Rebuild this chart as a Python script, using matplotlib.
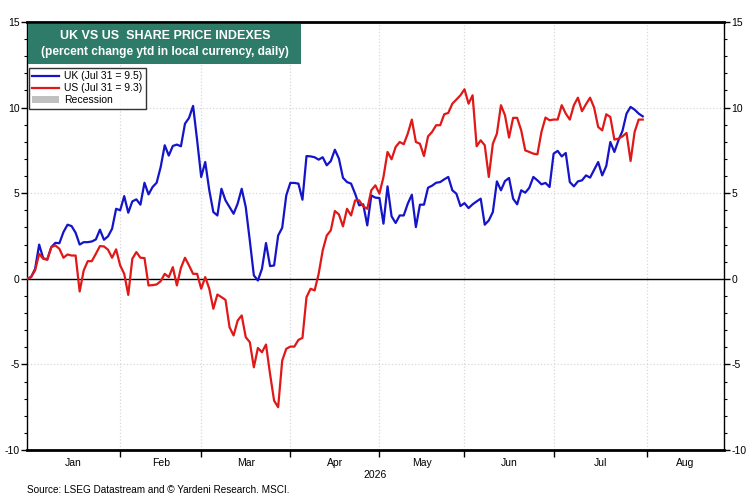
import numpy as np
import pandas as pd
import matplotlib
matplotlib.use("Agg")
import matplotlib.pyplot as plt
from matplotlib.patches import Rectangle, Patch
from matplotlib.lines import Line2D

plt.rcParams['font.family'] = ['Liberation Sans', 'DejaVu Sans']
plt.rcParams['axes.unicode_minus'] = False

# percent change ytd, one value per trading day, Dec 31 2025 = 0
uk = [0, 0.1, 0.58, 2.0, 1.2, 1.13, 1.85, 2.1, 2.08, 2.73,
      3.16, 3.08, 2.69, 2.0, 2.14, 2.14, 2.18, 2.3, 2.87, 2.28,
      2.48, 2.92, 4.09, 4.0, 4.83, 3.86, 4.52, 4.64, 4.33, 5.61,
      4.93, 5.36, 5.61, 6.53, 7.8, 7.2, 7.76, 7.84, 7.74, 9.06,
      9.4, 10.1,
      8.09, 5.95, 6.82, 5.17, 3.9, 3.7, 5.26, 4.58, 4.19, 3.8,
      4.39, 5.26, 4.19, 2.24, 0.2, -0.1, 0.58, 2.09, 0.74, 0.78,
      2.53, 2.98, 4.87, 5.6, 5.6, 5.56, 4.62, 7.17, 7.15, 7.1,
      6.96, 7.1, 6.63, 6.88, 7.54, 7.02, 5.9, 5.65, 5.56, 4.97,
      4.29,
      4.35, 3.12, 4.87, 4.74, 4.72, 3.22, 5.4, 3.65, 3.26, 3.7,
      3.7, 4.39, 4.91, 3.02, 4.33, 4.33, 5.32, 5.44, 5.61, 5.65,
      5.81, 5.95, 5.17, 4.97, 4.25, 4.42, 4.13, 4.35, 4.52, 4.68,
      3.16, 3.41, 3.9, 5.69, 5.17, 5.71, 5.89, 4.68, 4.35,
      5.17, 5.03, 5.32, 5.95, 5.75, 5.52, 5.6, 5.36, 7.31, 7.47,
      7.15, 7.35, 5.65, 5.4, 5.69, 5.75, 6.04, 5.91, 6.37, 6.82,
      6.04, 6.59, 7.99, 7.41, 8.09, 8.64, 9.65, 10.04, 9.88, 9.65,
      9.49]

us = [0, 0.1, 0.49, 1.46, 1.17, 1.11, 1.85, 1.95, 1.75, 1.23,
      1.42, 1.36, 1.36, -0.74, 0.49, 1.03, 1.03, 1.46, 1.91, 1.89,
      1.7, 1.23, 1.72, 0.78, 0.29, -0.94, 1.17, 1.56, 1.23, 1.21,
      -0.39, -0.37, -0.33, -0.14, 0.29, 0.1, 0.68, -0.39, 0.64, 1.23,
      0.78, 0.29,
      0.29, -0.58, 0.1, -0.58, -1.75, -0.92, -1.07, -1.23, -2.83, -3.31,
      -2.44, -2.14, -3.41, -3.7, -5.17, -4.04, -4.29, -3.84, -5.56, -7.12,
      -7.5, -4.78, -4.09, -3.96, -3.96, -3.57, -3.45, -1.07, -0.58, -0.68,
      0.29, 1.66, 2.53, 2.83, 3.96, 3.76, 3.06, 4.09, 3.7, 4.58,
      4.58,
      4.23, 4.09, 5.17, 5.46, 4.97, 5.95, 7.41, 6.98, 7.7, 7.99,
      7.86, 8.48, 9.3, 7.99, 7.89, 7.17, 8.32, 8.58, 8.97, 8.97,
      9.61, 9.69, 10.23, 10.47, 10.72, 11.07, 10.23, 10.72, 7.74, 8.09,
      7.8, 5.95, 7.89, 8.48, 10.14, 9.55, 8.25, 9.4, 9.4,
      8.67, 7.5, 7.41, 7.31, 7.27, 8.58, 9.42, 9.26, 9.3, 9.3,
      10.14, 9.65, 9.3, 10.14, 10.58, 9.79, 10.2, 10.58, 10.0, 8.87,
      8.67, 9.61, 9.45, 8.13, 8.19, 8.32, 8.52, 6.88, 8.58, 9.3,
      9.3]

month_names = ["Jan", "Feb", "Mar", "Apr", "May", "Jun", "Jul", "Aug"]

# trading-day calendar used for the x axis
cal = pd.bdate_range("2025-12-31", "2026-08-28")
x = np.arange(len(uk))

month_start = [0]
for m in range(2, 9):
    month_start.append(int(np.argmax(cal.month == m)))
month_end = month_start[1:] + [len(cal) - 1]
month_mid = [(a + b) / 2 for a, b in zip(month_start, month_end)]

fig = plt.figure(figsize=(7.5, 5), dpi=100)
ax = fig.add_axes([0.036, 0.1, 0.929, 0.856])

blue = "#1414c8"
red = "#e01818"

ax.plot(x, uk, color=blue, lw=1.6, zorder=3)
ax.plot(x, us, color=red, lw=1.6, zorder=3)
ax.axhline(0, color="black", lw=1.0, zorder=2)

ax.set_xlim(0, len(cal) - 1)
ax.set_ylim(-10, 15)

# y axis on both sides
ax.set_yticks(np.arange(-10, 16, 5))
ax.set_yticks(np.arange(-10, 16, 1), minor=True)
ax.tick_params(axis="y", which="both", direction="out", left=True, right=True,
               labelleft=True, labelright=True, labelsize=7.5, pad=1.5)
ax.tick_params(axis="y", which="major", length=4, width=1)
ax.tick_params(axis="y", which="minor", length=2.5, width=0.8)

# x axis: tick marks at month boundaries, labels in the middle of each month
ax.set_xticks(month_start[1:])
ax.set_xticklabels([])
ax.set_xticks(month_mid, minor=True)
ax.set_xticklabels(month_names, minor=True, fontsize=7.5)
ax.tick_params(axis="x", which="major", direction="out", length=5, width=1)
ax.tick_params(axis="x", which="minor", length=0, pad=6)

ax.grid(True, which="major", color="#d8d8d8", linestyle=":", lw=0.9)

for side in ["top", "bottom"]:
    ax.spines[side].set_linewidth(2)
for side in ["left", "right"]:
    ax.spines[side].set_linewidth(1)

ax.text(0.5, -0.058, "2026", transform=ax.transAxes, ha="center", va="center", fontsize=7.5)

# title box
ax.add_patch(Rectangle((0.002, 0.902), 0.391, 0.093, transform=ax.transAxes,
                       facecolor="#2e7b69", edgecolor="none", zorder=5))
ax.text(0.198, 0.967, "UK VS US  SHARE PRICE INDEXES", transform=ax.transAxes,
        ha="center", va="center", color="white", fontsize=9, fontweight="bold", zorder=6)
ax.text(0.198, 0.929, "(percent change ytd in local currency, daily)", transform=ax.transAxes,
        ha="center", va="center", color="white", fontsize=8.6, fontweight="bold", zorder=6)

handles = [Line2D([], [], color=blue, lw=1.6),
           Line2D([], [], color=red, lw=1.6),
           Patch(facecolor="#c0c0c0", edgecolor="none")]
labels = ["UK (Jul 31 = 9.5)", "US (Jul 31 = 9.3)", "Recession"]
leg = ax.legend(handles, labels, loc="upper left", bbox_to_anchor=(0.0, 0.897),
                fontsize=7.5, frameon=True, fancybox=False, edgecolor="black",
                handlelength=2.6, handletextpad=0.5, borderpad=0.3, labelspacing=0.2,
                borderaxespad=0.2)
leg.get_frame().set_linewidth(1)

fig.text(0.036, 0.02, "Source: LSEG Datastream and \u00a9 Yardeni Research. MSCI.", fontsize=7.2,
         ha="left", va="center")

fig.savefig("out.png", dpi=100)
